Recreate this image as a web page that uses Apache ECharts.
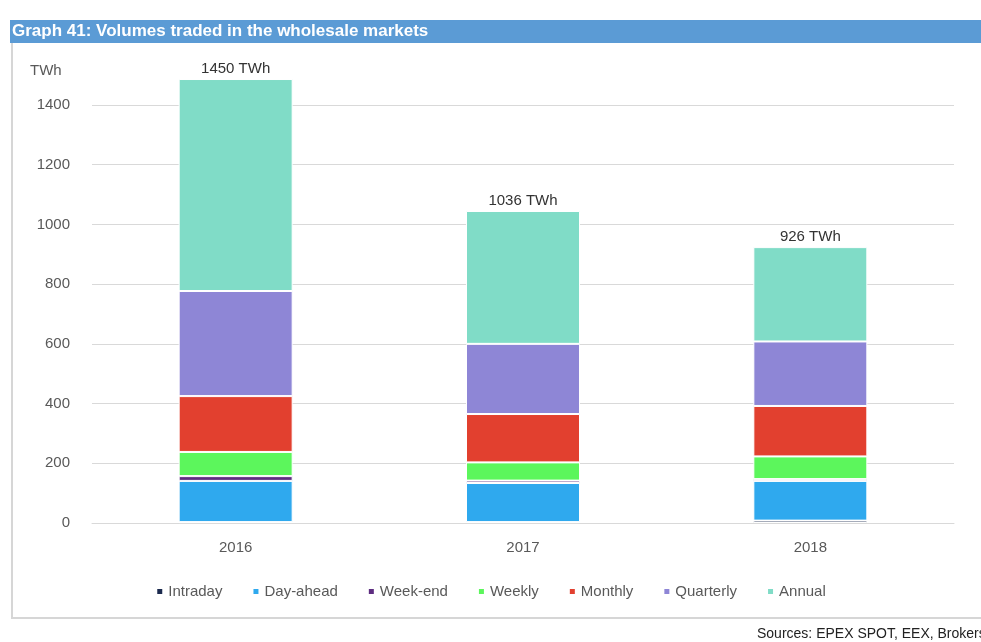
<!DOCTYPE html>
<html><head><meta charset="utf-8">
<script src="https://cdn.jsdelivr.net/npm/echarts@6/dist/echarts.min.js"></script>
<style>html,body{margin:0;padding:0;background:#fff}#c{width:981px;height:642px}</style>
</head><body><div id="c"></div>
<script>
const years = ['2016', '2017', '2018'];
const totalLabels = ['1450 TWh', '1036 TWh', '926 TWh'];
const intraday = [3, 3, 8];
const dayAhead = [138, 131, 133];
const weekEnd = [16, 8, 6];
const weekly = [81, 61, 76];
const monthly = [187, 162, 169];
const quarterly = [352, 235, 216];
const annual = [710, 445, 316];
const yTicks = [0, 200, 400, 600, 800, 1000, 1200, 1400];

const seriesDefs = [
  ['Intraday', intraday, '#1b2a4e'],
  ['Day-ahead', dayAhead, '#2fa9ee'],
  ['Week-end', weekEnd, '#5d2d80'],
  ['Weekly', weekly, '#5cf65c'],
  ['Monthly', monthly, '#e2402f'],
  ['Quarterly', quarterly, '#8e86d6'],
  ['Annual', annual, '#80dcc7']
];

const font = "'Liberation Sans Narrow', 'Liberation Sans', Arial, sans-serif";
const chart = echarts.init(document.getElementById('c'), null, {renderer: 'canvas'});
chart.setOption({
  animation: false,
  textStyle: {fontFamily: font},
  graphic: [
    {type: 'rect', shape: {x: 12, y: 42, width: 990, height: 576}, style: {fill: '#fff', stroke: '#d6d6d6', lineWidth: 2}, z: -10},
    {type: 'rect', shape: {x: 10, y: 20, width: 971, height: 23}, style: {fill: '#5b9bd5'}, z: -5},
    {type: 'text', left: 12, top: 23, style: {text: 'Graph 41: Volumes traded in the wholesale markets', fill: '#fff', font: "bold 17px 'Liberation Sans Narrow', 'Liberation Sans', Arial"}},
    {type: 'text', left: 30, top: 63, style: {text: 'TWh', fill: '#595959', font: "15px 'Liberation Sans Narrow', 'Liberation Sans', Arial"}},
    {type: 'text', left: 757, top: 627, style: {text: 'Sources: EPEX SPOT, EEX, Brokers', fill: '#222', font: "14px 'Liberation Sans Narrow', 'Liberation Sans', Arial"}}
  ],
  grid: {left: 92, right: 27, top: 105, bottom: 119},
  legend: {
    bottom: 38, left: 'center', icon: 'rect', itemWidth: 7, itemHeight: 7, itemGap: 29,
    textStyle: {color: '#595959', fontSize: 15, fontFamily: font},
    data: seriesDefs.map(d => d[0])
  },
  xAxis: {
    type: 'category', data: years,
    axisLine: {lineStyle: {color: '#d9d9d9'}}, axisTick: {show: false},
    axisLabel: {color: '#595959', fontSize: 15, margin: 17, fontFamily: font}
  },
  yAxis: {
    type: 'value', min: yTicks[0], max: yTicks[yTicks.length - 1], interval: 200,
    axisLine: {show: false}, axisTick: {show: false},
    axisLabel: {color: '#595959', fontSize: 15, margin: 22, fontFamily: font, formatter: v => String(v)},
    splitLine: {lineStyle: {color: '#d9d9d9'}}
  },
  series: seriesDefs.map((d, i) => ({
    name: d[0], type: 'bar', stack: 'total', data: d[1], barWidth: 114, clip: false,
    itemStyle: {color: d[2], borderColor: '#fff', borderWidth: 1},
    label: i === seriesDefs.length - 1 ? {
      show: true, position: 'top', distance: 3, color: '#333', fontSize: 15, fontFamily: font,
      formatter: p => totalLabels[p.dataIndex]
    } : {show: false}
  }))
});
</script></body></html>
